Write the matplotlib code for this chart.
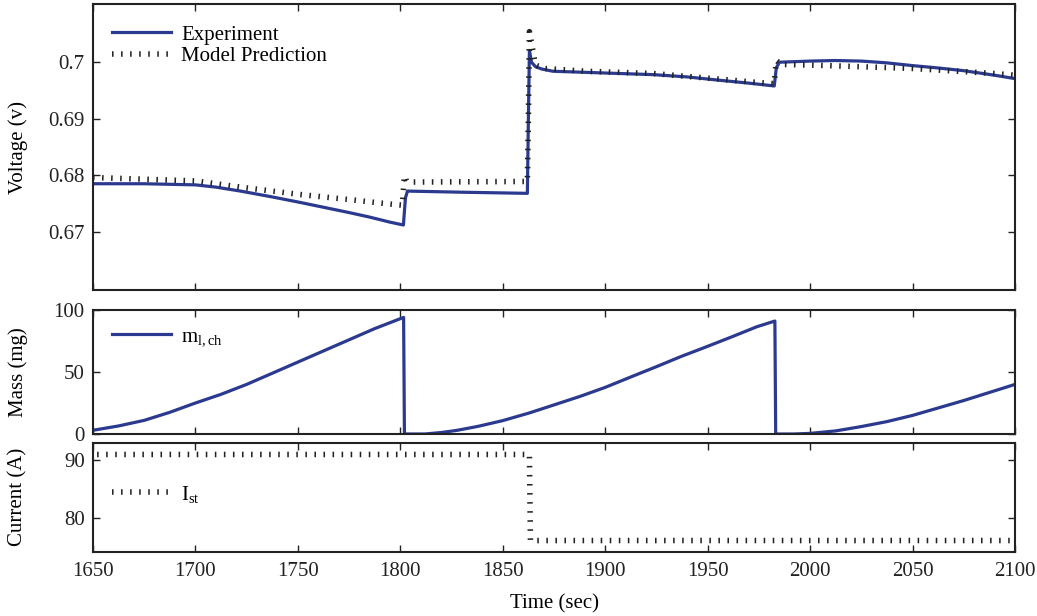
import matplotlib
matplotlib.use("Agg")
import matplotlib.pyplot as plt

plt.rcParams['font.family'] = ['Liberation Serif', 'DejaVu Serif']
plt.rcParams['mathtext.fontset'] = 'custom'
plt.rcParams['mathtext.rm'] = 'Liberation Serif'
plt.rcParams['mathtext.it'] = 'Liberation Serif'

# --- voltage: experiment ---
exp_t = [1650, 1675, 1700, 1710, 1722, 1737, 1751, 1763, 1775, 1785, 1795, 1801.5,
         1802.5, 1803.5, 1830, 1862, 1862.5, 1863, 1864, 1866, 1869, 1874.5, 1891, 1923.5,
         1940, 1956, 1970, 1982.5, 1983.5, 1985, 2000, 2012, 2025, 2037, 2050, 2062, 2075, 2090, 2100]
exp_v = [0.6785, 0.6785, 0.6783, 0.6779, 0.6772, 0.6762, 0.6752, 0.6743, 0.6734, 0.6726, 0.6717, 0.6712,
         0.6760, 0.6772, 0.6770, 0.6768, 0.6900, 0.7021, 0.7000, 0.6992, 0.6988, 0.6984, 0.6982, 0.6978,
         0.6974, 0.6968, 0.6963, 0.6958, 0.6990, 0.7000, 0.7002, 0.7003, 0.7002, 0.6999, 0.6994, 0.6990,
         0.6985, 0.6977, 0.6971]

# --- voltage: model ---
model_t = [1650, 1700, 1722, 1751, 1775, 1795, 1801, 1802, 1803, 1806, 1862, 1862.5, 1863,
           1866, 1870, 1891, 1923.5, 1956, 1975, 1982.5, 1983.5, 1986, 2000, 2050, 2090, 2100]
model_v = [0.6796, 0.6790, 0.6779, 0.6766, 0.6757, 0.6749, 0.6747, 0.6799, 0.6790, 0.6788, 0.6789, 0.6900, 0.7054,
           0.6995, 0.6989, 0.6984, 0.6980, 0.6970, 0.6964, 0.6962, 0.7003, 0.6996, 0.6995, 0.6989, 0.6980, 0.6977]

# --- liquid mass in channel ---
mass_t = [1650, 1662.5, 1675, 1687.5, 1700, 1712.5, 1725, 1737.5, 1750, 1762.5, 1775, 1787.5, 1800, 1801.6,
          1802, 1812, 1820, 1827.5, 1838, 1850, 1863, 1876, 1888, 1900, 1912.5, 1925, 1937, 1949.5,
          1962, 1974, 1982.8,
          1983.2, 1992, 2000, 2012.5, 2025, 2037.5, 2050, 2062.5, 2075, 2087.5, 2100]
mass = [3, 6.5, 11, 17.5, 25, 32, 40, 49, 58, 67, 76, 85, 93, 94,
        0, 0, 1.2, 2.9, 6.2, 10.8, 17, 24, 30.5, 37.6, 46, 54.3, 62.5, 70.4,
        78.5, 86.5, 91.1,
        0, 0, 0.5, 2.5, 6, 10, 15, 21, 27, 33.5, 40]

# --- stack current ---
cur_t = [1652, 1863, 1863.5, 2100]
cur = [91, 91, 76, 76]

blue = '#2B3A8F'
dot_kw = dict(color='#222222', linewidth=4.0, linestyle=(0, (0.28, 1.35)), dash_capstyle='butt')
fs = 15

fig = plt.figure(figsize=(10.37, 6.16), dpi=100)
L, W = 93 / 1037, 922 / 1037
ax1 = fig.add_axes([L, 1 - 290 / 616, W, 286 / 616])
ax2 = fig.add_axes([L, 1 - 434 / 616, W, 124 / 616])
ax3 = fig.add_axes([L, 1 - 552 / 616, W, 109 / 616])

ax1.plot(exp_t, exp_v, color=blue, lw=2.3, label='Experiment')
ax1.plot(model_t, model_v, label='Model Prediction', **dot_kw)
ax1.set_ylim(0.6597, 0.7103)
ax1.set_yticks([0.67, 0.68, 0.69, 0.70])
ax1.set_yticklabels(['0.67', '0.68', '0.69', '0.7'])

ax2.plot(mass_t, mass, color=blue, lw=2.3, label=r'm$_{\mathregular{l,ch}}$')
ax2.set_ylim(0, 100)
ax2.set_yticks([0, 50, 100])

ax3.plot(cur_t, cur, label=r'I$_{\mathregular{st}}$', **dot_kw)
ax3.set_ylim(74, 93)
ax3.set_yticks([80, 90])

for ax in (ax1, ax2, ax3):
    ax.set_xlim(1650, 2100)
    ax.set_xticks(range(1650, 2101, 50))
    ax.tick_params(direction='in', top=True, right=True, length=5, width=1.0,
                   labelsize=fs, pad=6, colors='#222222')
    ax.tick_params(axis='x', pad=7)
    for s in ax.spines.values():
        s.set_linewidth(1.5)
        s.set_color('#222222')
for ax in (ax1, ax2):
    ax.tick_params(labelbottom=False)

leg_kw = dict(frameon=False, fontsize=fs, handlelength=2.8, handletextpad=0.5,
              labelspacing=0.1, borderaxespad=0.0)
ax1.legend(loc='upper left', bbox_to_anchor=(0.012, 0.955), **leg_kw)
ax2.legend(loc='upper left', bbox_to_anchor=(0.012, 0.93), **leg_kw)
ax3.legend(loc='center left', bbox_to_anchor=(0.012, 0.53), **leg_kw)

fig.text(18 / 1037, 1 - 147 / 616, 'Voltage (v)', rotation=90, ha='center', va='center', fontsize=fs)
fig.text(18 / 1037, 1 - 372 / 616, 'Mass (mg)', rotation=90, ha='center', va='center', fontsize=fs)
fig.text(18 / 1037, 1 - 497 / 616, 'Current (A)', rotation=90, ha='center', va='center', fontsize=fs)
fig.text(554 / 1037, 1 - 604 / 616, 'Time (sec)', ha='center', va='center', fontsize=fs)

fig.savefig('out.png', dpi=100)
